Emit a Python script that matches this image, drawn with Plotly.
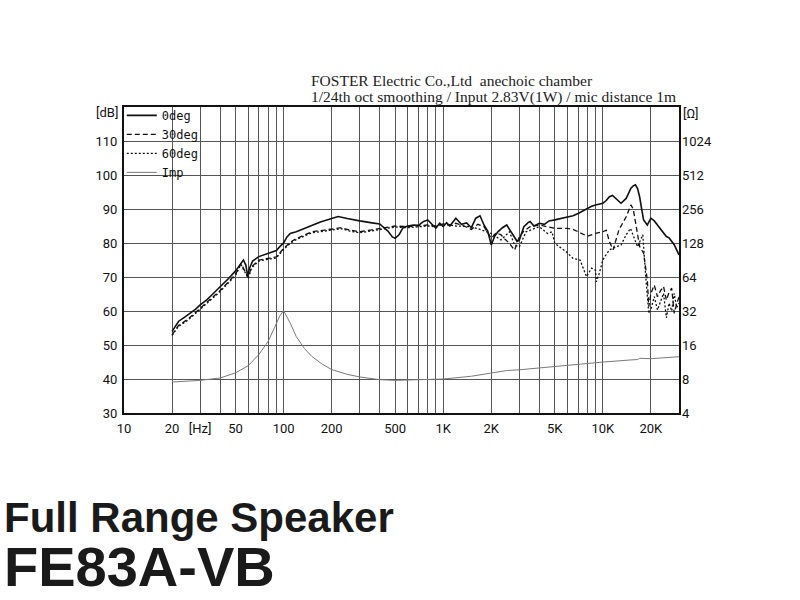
import math
import plotly.graph_objects as go

# ---------------- data ----------------
freq_0 = [20, 21, 22, 24, 26, 28, 30, 33, 36, 40, 45, 50, 53, 56, 58, 59.5, 61, 64, 70, 80, 90, 95,
          100, 105, 110, 120, 135, 150, 170, 200, 220, 250, 280, 300, 350, 400, 450, 480, 500, 530,
          560, 600, 650, 700, 750, 800, 850, 900, 950, 1000, 1050, 1100, 1200, 1300, 1400, 1500,
          1600, 1700, 1800, 1900, 2000, 2100, 2200, 2350, 2500, 2650, 2800, 2900, 3000, 3200, 3400,
          3500, 3700, 4000, 4300, 4600, 5000, 5500, 6000, 6500, 7000, 7500, 8000, 8500, 9000, 9500,
          10000, 10500, 11000, 11500, 12000, 12500, 13000, 14000, 15000, 15500, 16000, 16500, 17000,
          17500, 18000, 19000, 19500, 20000, 21000, 22000, 23000, 24000, 25000, 26000, 27000, 28000,
          29000, 30000]
spl_0 = [54.0, 55.5, 57.0, 58.2, 59.3, 60.5, 61.8, 63.3, 65.0, 67.0, 69.5, 71.8, 73.5, 75.0, 73.5, 70.3,
         72.5, 74.7, 76.0, 77.0, 77.8, 79.0, 80.0, 81.8, 82.8, 83.3, 84.3, 85.0, 86.2, 87.2, 87.8, 87.2,
         86.7, 86.5, 86.0, 85.6, 83.5, 81.8, 81.4, 82.5, 84.5, 85.0, 85.3, 85.2, 86.3, 86.8, 85.5, 84.4,
         85.8, 84.8, 86.0, 85.0, 87.3, 85.5, 85.9, 84.5, 87.3, 88.0, 85.3, 83.5, 79.4, 82.0, 83.3, 84.5,
         85.3, 83.5, 81.9, 80.5, 80.9, 84.8, 86.0, 86.3, 85.0, 85.8, 85.5, 86.5, 86.8, 87.2, 87.7, 88.0,
         88.7, 89.5, 90.2, 90.8, 91.2, 91.5, 91.7, 92.5, 93.6, 94.0, 93.1, 92.3, 91.7, 93.1, 96.1, 96.8,
         97.1, 96.0, 93.6, 90.0, 86.8, 85.3, 86.5, 87.3, 86.5, 85.3, 84.3, 83.3, 81.9, 81.5, 80.4, 79.5,
         78.0, 76.5]

freq_30 = [20, 22, 25, 30, 36, 40, 45, 50, 54, 57, 60, 63, 70, 80, 90, 100, 110, 120, 150, 180, 200,
           230, 260, 300, 350, 400, 450, 500, 600, 700, 800, 900, 1000, 1100, 1200, 1350, 1500, 1650,
           1800, 1900, 2000, 2150, 2300, 2450, 2600, 2800, 3000, 3200, 3500, 4000, 4500, 5000, 6000,
           6500, 7000, 8000, 9000, 9500, 10000, 10500, 11000, 11600, 12600, 14000, 15000, 15500,
           16500, 17000, 18000, 19000, 19400, 20000, 21000, 22000, 23000, 24000, 25000, 26000,
           27000, 28000, 29000, 30000]
spl_30 = [53.0, 55.8, 57.5, 60.8, 64.0, 66.0, 68.5, 70.8, 74.0, 72.0, 69.9, 73.0, 75.0, 75.5, 75.9, 78.4,
          80.2, 81.3, 83.3, 83.8, 84.1, 84.5, 83.8, 83.3, 83.8, 84.3, 84.6, 85.0, 84.8, 85.0, 85.3, 85.0,
          85.6, 85.3, 85.8, 85.0, 84.0, 85.5, 84.8, 83.0, 81.4, 83.0, 82.4, 81.0, 79.9, 77.9, 81.9, 83.5,
          84.8, 85.3, 84.8, 84.3, 84.3, 84.0, 83.3, 82.0, 82.8, 83.0, 83.3, 83.8, 80.4, 78.0, 83.8, 87.7,
          91.2, 90.0, 83.3, 79.0, 77.0, 69.1, 61.3, 65.2, 67.6, 64.2, 66.0, 67.2, 63.2, 65.5, 66.7, 59.3,
          62.0, 64.2]

freq_60 = [20, 22, 25, 30, 36, 40, 45, 50, 54, 57, 60, 63, 70, 80, 90, 100, 110, 120, 150, 180, 200,
           230, 260, 300, 350, 400, 450, 500, 600, 700, 800, 900, 1000, 1200, 1500, 1700, 2000, 2300,
           2600, 2800, 3000, 3300, 3600, 4000, 4500, 4800, 5000, 5500, 5900, 6500, 7200, 7900, 8500,
           9000, 9100, 9500, 10000, 10300, 11000, 12300, 13000, 14000, 14900, 16500, 17800, 18500,
           19400, 20000, 21000, 22000, 23000, 24000, 25000, 26000, 27000, 28000, 29000, 30000]
spl_60 = [52.8, 55.5, 57.2, 60.5, 63.7, 65.7, 68.2, 70.5, 73.7, 71.7, 69.6, 72.7, 74.7, 75.2, 75.6, 78.1,
          79.9, 81.0, 83.0, 83.5, 83.8, 84.2, 83.5, 83.0, 83.5, 84.0, 84.3, 84.7, 84.5, 84.7, 85.0, 84.8,
          85.6, 85.0, 84.8, 84.0, 82.8, 80.9, 83.3, 79.4, 78.9, 83.3, 84.0, 84.8, 82.8, 83.3, 79.9, 78.5,
          77.4, 75.5, 75.0, 70.1, 72.6, 72.0, 68.6, 71.1, 75.0, 76.0, 78.0, 79.0, 79.4, 82.4, 84.3, 78.9,
          82.4, 71.0, 59.3, 60.5, 64.2, 60.3, 63.0, 65.2, 58.0, 62.3, 60.0, 65.2, 61.0, 62.3]

freq_imp = [20, 25, 30, 40, 50, 60, 70, 80, 90, 95, 100, 105, 110, 120, 135, 150, 175, 200, 250, 300,
            400, 500, 700, 1000, 1500, 2000, 2500, 3000, 5000, 7000, 10000, 15000, 16500, 17000,
            20000, 30000]
imp_ohm = [7.52, 7.62, 7.78, 8.17, 9.07, 10.49, 13.18, 17.2, 25.0, 29.2, 32.2, 28.6, 25.0, 19.0, 14.9,
           12.7, 10.8, 9.7, 8.8, 8.34, 7.89, 7.78, 7.83, 8.0, 8.46, 9.07, 9.51, 9.65, 10.36, 10.8, 11.3,
           11.8, 11.9, 12.2, 12.1, 12.6]

x_grid_vals = [10, 20, 30, 40, 50, 60, 70, 80, 90, 100, 200, 300, 400, 500, 600, 700, 800, 900,
               1000, 2000, 3000, 4000, 5000, 6000, 7000, 8000, 9000, 10000, 20000]
x_grid_text = ["10", "20", "[Hz]", "", "50", "", "", "", "", "100", "200", "", "", "500", "", "", "", "",
               "1K", "2K", "", "", "5K", "", "", "", "", "10K", "20K"]
db_vals = [30, 40, 50, 60, 70, 80, 90, 100, 110]
db_text = ["30", "40", "50", "60", "70", "80", "90", "100", "110"]
ohm_vals = [4, 8, 16, 32, 64, 128, 256, 512, 1024]
ohm_text = ["4", "8", "16", "32", "64", "128", "256", "512", "1024"]
db_unit = "[dB]"
ohm_unit = "[Ω]"
decade_lines = [100, 1000, 10000]

header_1 = "FOSTER Electric Co.,Ltd \u00a0anechoic chamber"
header_2 = "1/24th oct smoothing / Input 2.83V(1W) / mic distance 1m"
title_1 = "Full Range Speaker"
title_2 = "FE83A-VB"

# ---------------- figure ----------------
fig = go.Figure()
fig.add_trace(go.Scatter(x=freq_0, y=spl_0, mode="lines", name="0deg",
                         line=dict(color="#111111", width=1.6)))
fig.add_trace(go.Scatter(x=freq_30, y=spl_30, mode="lines", name="30deg",
                         line=dict(color="#111111", width=1.3, dash="5px,3px")))
fig.add_trace(go.Scatter(x=freq_60, y=spl_60, mode="lines", name="60deg",
                         line=dict(color="#111111", width=1.3, dash="2px,2px")))
fig.add_trace(go.Scatter(x=freq_imp, y=imp_ohm, mode="lines", name="Imp", yaxis="y2",
                         line=dict(color="#7a7a7a", width=1)))

tick_font = dict(family="Roboto, DejaVu Sans, sans-serif", size=13, color="#111111")

shapes = [dict(type="line", xref="x", yref="paper", x0=math.log10(v), x1=math.log10(v), y0=0, y1=1,
               line=dict(color="#111111", width=2), layer="between") for v in decade_lines]

fig.update_layout(
    width=800, height=600,
    margin=dict(l=124, r=121, t=107, b=187),
    paper_bgcolor="white", plot_bgcolor="white",
    showlegend=True,
    legend=dict(x=-0.004, y=1.02, xanchor="left", yanchor="top", bgcolor="rgba(0,0,0,0)",
                font=dict(family="DejaVu Sans Mono, monospace", size=12, color="#111111"),
                itemwidth=30, tracegroupgap=0),
    xaxis=dict(type="log", range=[1, math.log10(30000)], tickvals=x_grid_vals, ticktext=x_grid_text,
               showgrid=True, gridcolor="#555555", gridwidth=1, showline=True, linecolor="#111111",
               linewidth=2, mirror=True, ticks="", tickfont=tick_font, zeroline=False,
               ticklabelstandoff=2),
    yaxis=dict(range=[30, 120], tickvals=db_vals, ticktext=db_text, showgrid=True, gridcolor="#555555",
               gridwidth=1, showline=True, linecolor="#111111", linewidth=2, mirror=True, ticks="",
               tickfont=tick_font, zeroline=False, ticklabelstandoff=2),
    yaxis2=dict(type="log", overlaying="y", side="right", range=[math.log10(4), math.log10(2048)],
                tickvals=ohm_vals, ticktext=ohm_text, showgrid=False, ticks="", tickfont=tick_font,
                zeroline=False, showline=False, ticklabelstandoff=2),
    shapes=shapes,
)

fig.add_annotation(text=db_unit, xref="paper", yref="paper", x=-0.008, y=0.983, xanchor="right",
                   yanchor="middle", showarrow=False, font=tick_font)
fig.add_annotation(text=ohm_unit, xref="paper", yref="paper", x=1.004, y=0.98, xanchor="left",
                   yanchor="middle", showarrow=False, font=tick_font)

fig.add_annotation(text=header_1, xref="paper", yref="paper", x=0.333, y=1.088, xanchor="left",
                   yanchor="middle", showarrow=False,
                   font=dict(family="Liberation Serif, Times New Roman, serif", size=15.5, color="#222222"))
fig.add_annotation(text=header_2, xref="paper", yref="paper", x=0.333, y=1.033, xanchor="left",
                   yanchor="middle", showarrow=False,
                   font=dict(family="Liberation Serif, Times New Roman, serif", size=15.5, color="#222222"))
fig.add_annotation(text="<b>" + title_1 + "</b>", xref="paper", yref="paper", x=-0.22, y=-0.342,
                   xanchor="left", yanchor="middle", showarrow=False,
                   font=dict(family="Liberation Sans, Arial, sans-serif", size=42, color="#1a1a1a"))
fig.add_annotation(text="<b>" + title_2 + "</b>", xref="paper", yref="paper", x=-0.22, y=-0.503,
                   xanchor="left", yanchor="middle", showarrow=False,
                   font=dict(family="Liberation Sans, Arial, sans-serif", size=56, color="#1a1a1a"))

fig.write_html("out.html", config={"displayModeBar": False},
               post_script="document.body.style.margin='0';")
